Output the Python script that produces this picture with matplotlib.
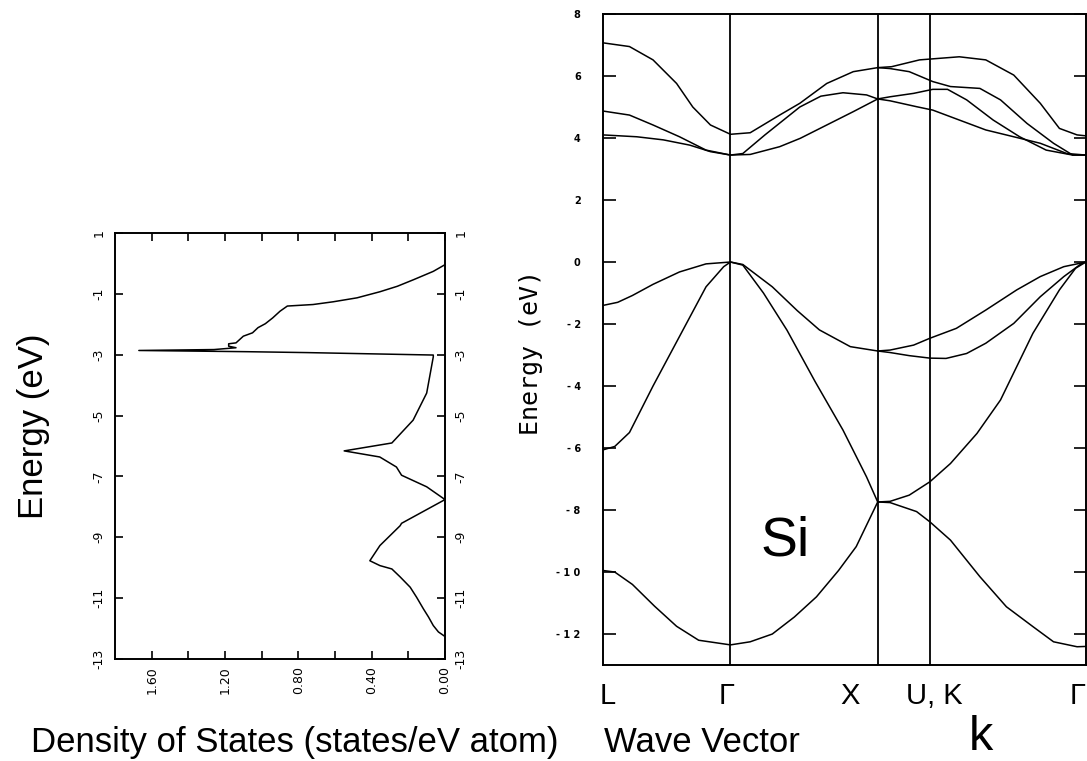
import matplotlib.pyplot as plt
import numpy as np

# --- density of states (left panel) ---
dos_energy = [-0.04, -0.26, -0.53, -0.75, -0.93, -1.13, -1.26, -1.35, -1.40, -1.57, -1.79,
              -1.98, -2.11, -2.28, -2.39, -2.61, -2.64, -2.72, -2.77, -2.83, -2.86, -2.90,
              -2.93, -3.01, -3.07, -4.26, -5.15, -5.90, -6.16, -6.36, -6.69, -6.96, -7.34,
              -7.76, -8.54, -8.62, -9.27, -9.77, -9.93, -10.04, -10.30, -10.64, -10.97,
              -11.35, -11.62, -11.90, -12.11, -12.26]
dos_value = [0.0, 0.064, 0.17, 0.26, 0.355, 0.48, 0.61, 0.72, 0.86, 0.90, 0.94,
             0.98, 1.02, 1.05, 1.10, 1.14, 1.18, 1.18, 1.14, 1.26, 1.67, 1.08,
             0.75, 0.064, 0.064, 0.10, 0.174, 0.29, 0.55, 0.356, 0.265, 0.237, 0.10,
             0.0, 0.237, 0.245, 0.355, 0.41, 0.355, 0.29, 0.245, 0.19, 0.155,
             0.118, 0.09, 0.064, 0.036, 0.0]

# --- band structure along L - Gamma - X - U,K - Gamma ---
kpoints = [0.0, 0.866, 1.866, 2.22, 3.28]
klabels = ['L', 'Γ', 'X', 'U, K', 'Γ']

k_band1 = [0, 0.08, 0.2, 0.35, 0.5, 0.65, 0.866, 1.0, 1.15, 1.3, 1.45, 1.6, 1.72, 1.866,
           1.95, 2.13, 2.22, 2.36, 2.56, 2.74, 2.92, 3.06, 3.22, 3.28]
e_band1 = [-9.95, -10.0, -10.4, -11.1, -11.75, -12.2, -12.35, -12.25, -12.0, -11.45, -10.8,
           -9.95, -9.18, -7.74, -7.76, -8.05, -8.38, -8.97, -10.15, -11.12, -11.76, -12.25,
           -12.41, -12.4]

k_band2 = [0, 0.08, 0.18, 0.34, 0.52, 0.70, 0.82, 0.866, 0.95, 1.09, 1.25, 1.44, 1.63, 1.79,
           1.866, 1.95, 2.08, 2.22, 2.36, 2.54, 2.70, 2.92, 3.10, 3.21, 3.28]
e_band2 = [-6.06, -5.95, -5.5, -4.0, -2.4, -0.8, -0.15, 0.0, -0.1, -1.0, -2.2, -3.85, -5.42,
           -6.93, -7.74, -7.72, -7.52, -7.09, -6.5, -5.53, -4.45, -2.3, -0.9, -0.2, 0.0]

k_band3 = [0, 0.1, 0.2, 0.34, 0.52, 0.7, 0.866, 0.95, 1.15, 1.32, 1.47, 1.68, 1.866,
           1.95, 2.08, 2.22, 2.33, 2.47, 2.60, 2.79, 2.97, 3.13, 3.25, 3.28]
e_band3 = [-1.4, -1.3, -1.08, -0.72, -0.32, -0.06, 0.0, -0.08, -0.8, -1.57, -2.19, -2.73, -2.87,
           -2.92, -3.02, -3.1, -3.11, -2.95, -2.62, -1.98, -1.12, -0.47, -0.05, 0.0]

k_band4 = [1.866, 1.95, 2.11, 2.22, 2.40, 2.60, 2.81, 2.97, 3.13, 3.28]
e_band4 = [-2.87, -2.84, -2.68, -2.46, -2.14, -1.55, -0.9, -0.47, -0.15, 0.0]

k_band5 = [0, 0.23, 0.41, 0.59, 0.73, 0.866, 1.0, 1.2, 1.34, 1.52, 1.70, 1.866,
           1.95, 2.13, 2.24, 2.42, 2.60, 2.79, 2.97, 3.15, 3.28]
e_band5 = [4.1, 4.04, 3.94, 3.77, 3.56, 3.45, 3.47, 3.72, 3.99, 4.42, 4.85, 5.26,
           5.2, 5.01, 4.9, 4.58, 4.26, 4.04, 3.83, 3.5, 3.45]

k_band6 = [0, 0.18, 0.34, 0.52, 0.70, 0.866, 0.95, 1.1, 1.337, 1.48, 1.63, 1.79, 1.866,
           1.95, 2.11, 2.24, 2.34, 2.47, 2.65, 2.83, 3.01, 3.19, 3.28]
e_band6 = [4.87, 4.74, 4.42, 4.04, 3.61, 3.45, 3.5, 4.1, 5.0, 5.35, 5.46, 5.39, 5.26,
           5.33, 5.44, 5.57, 5.57, 5.23, 4.58, 4.04, 3.61, 3.45, 3.45]

k_band7 = [0, 0.18, 0.34, 0.5, 0.61, 0.73, 0.866, 1.0, 1.2, 1.337, 1.52, 1.70, 1.866,
           1.96, 2.15, 2.42, 2.60, 2.79, 2.97, 3.10, 3.22, 3.28]
e_band7 = [7.07, 6.95, 6.52, 5.76, 5.0, 4.42, 4.12, 4.17, 4.74, 5.12, 5.76, 6.14, 6.27,
           6.30, 6.52, 6.62, 6.52, 6.03, 5.12, 4.31, 4.1, 4.07]

k_band8 = [1.866, 1.95, 2.08, 2.24, 2.36, 2.56, 2.70, 2.88, 3.06, 3.19, 3.28]
e_band8 = [6.27, 6.24, 6.14, 5.82, 5.66, 5.6, 5.23, 4.47, 3.83, 3.45, 3.45]

bands = [(k_band1, e_band1), (k_band2, e_band2), (k_band3, e_band3), (k_band4, e_band4),
         (k_band5, e_band5), (k_band6, e_band6), (k_band7, e_band7), (k_band8, e_band8)]

energy_ticks = [1, -1, -3, -5, -7, -9, -11, -13]
dos_ticks = [0.0, 0.4, 0.8, 1.2, 1.6]
band_ticks = [8, 6, 4, 2, 0, -2, -4, -6, -8, -10, -12]

plt.rcParams['font.family'] = ['Liberation Sans', 'DejaVu Sans']

fig = plt.figure(figsize=(10.87, 7.61), dpi=100)

# left panel: DOS, drawn rotated (energy vertical, DOS increasing to the left)
ax1 = fig.add_axes([0.1058, 0.134, 0.3036, 0.5598])
ax1.plot(dos_value, dos_energy, color='black', lw=1.1)
ax1.set_xlim(1.8, 0.0)
ax1.set_ylim(-13, 1)
ax1.set_yticks(energy_ticks)
ax1.set_yticklabels([str(t) for t in energy_ticks], rotation=90, va='center',
                    family='DejaVu Sans', fontsize=9)
ax1.set_xticks(dos_ticks)
ax1.set_xticks(np.arange(0.2, 1.8, 0.4), minor=True)
ax1.set_xticklabels(['%.2f' % t for t in dos_ticks], rotation=90,
                    family='DejaVu Sans', fontsize=9)
ax1.tick_params(axis='both', which='both', direction='in', length=6, width=1.2,
                top=True, right=True, labelright=True)
ax1.tick_params(axis='y', pad=7)
ax1.tick_params(axis='x', pad=5)
for s in ax1.spines.values():
    s.set_linewidth(1.4)

# right panel: band structure
ax2 = fig.add_axes([0.5547, 0.1261, 0.4443, 0.8555])
for kk, ee in bands:
    ax2.plot(kk, ee, color='black', lw=1.1)
for kp in kpoints[1:-1]:
    ax2.axvline(kp, color='black', lw=1.3)
ax2.set_xlim(kpoints[0], kpoints[-1])
ax2.set_ylim(-13, 8)
ax2.set_xticks([])
ax2.set_yticks(band_ticks)
ax2.set_yticklabels([('- ' + ' '.join(str(-t))) if t < 0 else str(t) for t in band_ticks],
                    family='DejaVu Sans', fontsize=7, fontweight='bold')
ax2.tick_params(axis='y', direction='in', length=9, width=1.2, right=True, pad=16)
for s in ax2.spines.values():
    s.set_linewidth(1.4)

label_shift = [0.035, -0.025, -0.19, 0.03, 0.0]
label_align = ['center', 'center', 'center', 'center', 'right']
for kp, lab, sh, al in zip(kpoints, klabels, label_shift, label_align):
    ax2.text(kp + sh, -14.0, lab, ha=al, va='center', fontsize=21,
             transform=ax2.transData, clip_on=False)

ax2.text(0.377, 0.19, 'Si', transform=ax2.transAxes, fontsize=40,
         ha='center', va='center')
ax2.set_ylabel('Energy (eV)', family='DejaVu Sans Mono', fontsize=18)
ax2.yaxis.set_label_coords(-0.125, 0.48)

fig.text(0.031, 0.44, 'Energy (eV)', rotation=90, fontsize=25, ha='center', va='center')
fig.text(0.2714, 0.012, 'Density of States (states/eV atom)', fontsize=25,
         ha='center', va='baseline')
fig.text(0.646, 0.012, 'Wave Vector', fontsize=25, ha='center', va='baseline')
fig.text(0.902, 0.014, 'k', fontsize=35, ha='center', va='baseline')

fig.savefig('out.png', dpi=100)
